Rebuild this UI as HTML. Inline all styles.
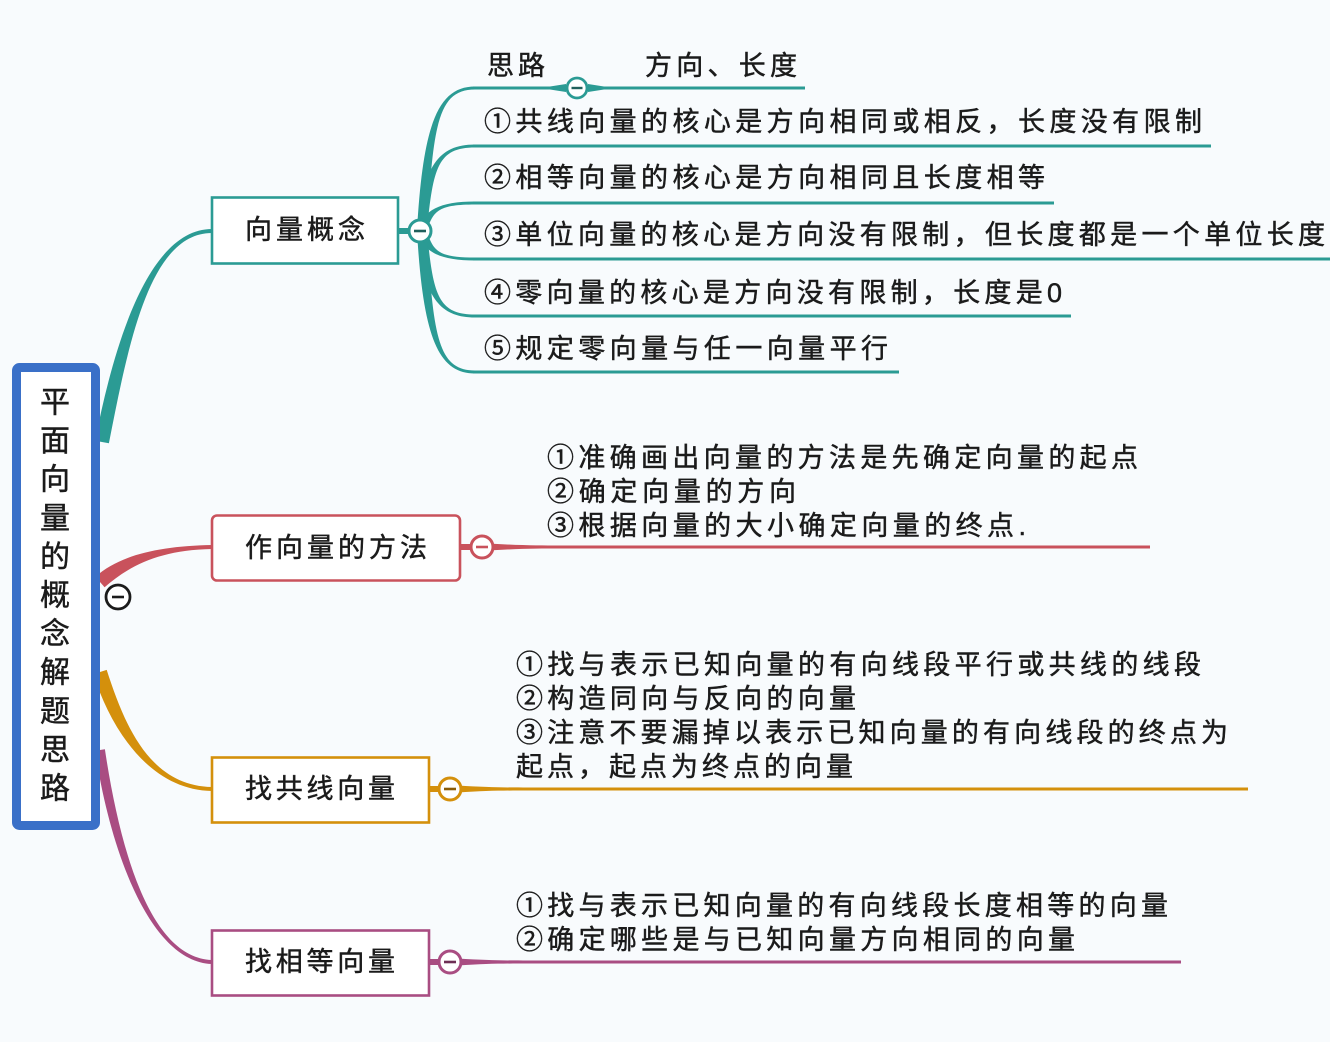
<!DOCTYPE html>
<html><head><meta charset="utf-8">
<style>
html,body{margin:0;padding:0;background:#f8fbfd;}
svg{display:block;}
text{font-family:"Liberation Sans","Noto Sans CJK SC",sans-serif;fill:#1b1b1b;dominant-baseline:central;stroke:#1b1b1b;stroke-width:0.45px;}
.t{font-size:27px;}
.n{font-size:27px;}
.r{font-size:30px;}
</style></head>
<body>
<svg width="1330" height="1042" viewBox="0 0 1330 1042" xmlns="http://www.w3.org/2000/svg">
<rect x="0" y="0" width="1330" height="1042" fill="#f8fbfd"/>

<!-- root branches -->
<path d="M95.1,440.7 C115.1,338.7 150,229 212,229 L212,233 C150,233 128.9,341.3 108.9,443.3 Z" fill="#2b9b94"/>
<path d="M95.4,576.7 C120.4,554.7 160,546 212,545 L212,549 C160,550 129.6,565.3 104.6,587.3 Z" fill="#c9525c"/>
<path d="M106.7,669.9 C124.7,725.9 150,786 212,787 L212,791 C150,790 111.3,730.1 93.3,674.1 Z" fill="#d4900c"/>
<path d="M104.9,749.3 C119.9,849.3 150,958 212,960 L212,964 C150,962 110.1,850.7 95.1,750.7 Z" fill="#a94d82"/>

<!-- root node -->
<rect x="16.5" y="367.5" width="79" height="458" rx="3" fill="#ffffff" stroke="#3a70c8" stroke-width="9"/>
<text class="r" x="55" y="403" text-anchor="middle">平</text>
<text class="r" x="55" y="441.6" text-anchor="middle">面</text>
<text class="r" x="55" y="480.2" text-anchor="middle">向</text>
<text class="r" x="55" y="518.8" text-anchor="middle">量</text>
<text class="r" x="55" y="557.4" text-anchor="middle">的</text>
<text class="r" x="55" y="596" text-anchor="middle">概</text>
<text class="r" x="55" y="634.6" text-anchor="middle">念</text>
<text class="r" x="55" y="673.2" text-anchor="middle">解</text>
<text class="r" x="55" y="711.8" text-anchor="middle">题</text>
<text class="r" x="55" y="750.4" text-anchor="middle">思</text>
<text class="r" x="55" y="789" text-anchor="middle">路</text>

<!-- root collapse circle -->
<circle cx="118" cy="597" r="12" fill="#ffffff" stroke="#1b1b1b" stroke-width="2.8"/>
<line x1="112" y1="597" x2="124" y2="597" stroke="#1b1b1b" stroke-width="2.6"/>

<!-- ===== teal: 向量概念 ===== -->
<g fill="#2b9b94">
<path d="M417,231 C423,124 438,86.5 475,86.5 L475,89.5 C438,89.5 433,124 427,231 Z"/>
<path d="M417,231 C423,167 438,144.5 475,144.5 L475,147.5 C438,147.5 433,167 427,231 Z"/>
<path d="M417,231 C423,210 440,201.5 475,201.5 L475,204.5 C440,204.5 433,210 427,231 Z"/>
<path d="M417,231 C423,252 440,260.5 475,260.5 L475,257.5 C440,257.5 433,252 427,231 Z"/>
<path d="M417,231 C423,295 438,317.5 475,317.5 L475,314.5 C438,314.5 433,295 427,231 Z"/>
<path d="M417,231 C423,336.75 438,373.5 475,373.5 L475,370.5 C438,370.5 433,336.75 427,231 Z"/>
<rect x="397" y="228" width="16" height="6"/>
<rect x="473" y="86.5" width="80" height="3"/>
<path d="M550,86.5 L566,84 L566,92 L550,89.5 Z"/>
<path d="M588,84 L604,86.5 L805,86.5 L805,89.5 L604,89.5 L588,92 Z"/>
<rect x="473" y="144.5" width="738" height="3"/>
<rect x="473" y="201.5" width="581" height="3"/>
<rect x="473" y="257.5" width="857" height="3"/>
<rect x="473" y="314.5" width="598" height="3"/>
<rect x="473" y="370.5" width="426" height="3"/>
</g>
<rect x="212" y="197.5" width="186" height="66" fill="#ffffff" stroke="#2b9b94" stroke-width="2.6"/>
<text class="n" x="245" y="230" textLength="120" lengthAdjust="spacing">向量概念</text>
<circle cx="420" cy="231" r="11" fill="#ffffff" stroke="#2b9b94" stroke-width="3"/>
<line x1="414" y1="231" x2="426" y2="231" stroke="#21605c" stroke-width="2.6"/>
<circle cx="577" cy="88" r="10" fill="#ffffff" stroke="#2b9b94" stroke-width="2.8"/>
<line x1="571.5" y1="88" x2="582.5" y2="88" stroke="#21605c" stroke-width="2.4"/>

<text class="t" x="487" y="66" textLength="58" lengthAdjust="spacing">思路</text>
<text class="t" x="645" y="66" textLength="152" lengthAdjust="spacing">方向、长度</text>
<text class="t" x="484" y="122" textLength="718" lengthAdjust="spacing">①共线向量的核心是方向相同或相反，长度没有限制</text>
<text class="t" x="484" y="178" textLength="561" lengthAdjust="spacing">②相等向量的核心是方向相同且长度相等</text>
<text class="t" x="484" y="235" textLength="841" lengthAdjust="spacing">③单位向量的核心是方向没有限制，但长度都是一个单位长度</text>
<text class="t" x="484" y="293" textLength="578" lengthAdjust="spacing">④零向量的核心是方向没有限制，长度是0</text>
<text class="t" x="484" y="349" textLength="404" lengthAdjust="spacing">⑤规定零向量与任一向量平行</text>

<!-- ===== red: 作向量的方法 ===== -->
<g fill="#c9525c">
<rect x="459" y="544" width="16" height="6"/>
<path d="M490,543.5 C520,545.5 540,545.5 560,545.5 L1150,545.5 L1150,548.5 L560,548.5 C540,548.5 520,548.5 490,550.5 Z"/>
</g>
<rect x="212" y="515.5" width="248" height="65" rx="5" fill="#ffffff" stroke="#c9525c" stroke-width="2.6"/>
<text class="n" x="245" y="548" textLength="182" lengthAdjust="spacing">作向量的方法</text>
<circle cx="482" cy="547" r="11" fill="#ffffff" stroke="#c9525c" stroke-width="3"/>
<line x1="476" y1="547" x2="488" y2="547" stroke="#c9525c" stroke-width="2.6"/>
<text class="t" x="547" y="458" textLength="591" lengthAdjust="spacing">①准确画出向量的方法是先确定向量的起点</text>
<text class="t" x="547" y="492" textLength="249" lengthAdjust="spacing">②确定向量的方向</text>
<text class="t" x="547" y="526" textLength="479" lengthAdjust="spacing">③根据向量的大小确定向量的终点.</text>

<!-- ===== orange: 找共线向量 ===== -->
<g fill="#d4900c">
<rect x="428" y="786" width="14" height="6"/>
<path d="M458,785.5 C488,787.5 508,787.5 528,787.5 L1248,787.5 L1248,790.5 L528,790.5 C508,790.5 488,790.5 458,792.5 Z"/>
</g>
<rect x="212" y="757.5" width="217" height="65" fill="#ffffff" stroke="#d4900c" stroke-width="2.6"/>
<text class="n" x="245" y="789" textLength="150" lengthAdjust="spacing">找共线向量</text>
<circle cx="450" cy="789" r="11" fill="#ffffff" stroke="#d4900c" stroke-width="3"/>
<line x1="444" y1="789" x2="456" y2="789" stroke="#8a5c08" stroke-width="2.6"/>
<text class="t" x="516" y="665" textLength="685" lengthAdjust="spacing">①找与表示已知向量的有向线段平行或共线的线段</text>
<text class="t" x="516" y="699" textLength="340" lengthAdjust="spacing">②构造同向与反向的向量</text>
<text class="t" x="516" y="733" textLength="712" lengthAdjust="spacing">③注意不要漏掉以表示已知向量的有向线段的终点为</text>
<text class="t" x="516" y="767" textLength="337" lengthAdjust="spacing">起点，起点为终点的向量</text>

<!-- ===== magenta: 找相等向量 ===== -->
<g fill="#a94d82">
<rect x="428" y="959" width="14" height="6"/>
<path d="M458,958.5 C488,960.5 508,960.5 528,960.5 L1181,960.5 L1181,963.5 L528,963.5 C508,963.5 488,963.5 458,965.5 Z"/>
</g>
<rect x="212" y="930.5" width="217" height="65" fill="#ffffff" stroke="#a94d82" stroke-width="2.6"/>
<text class="n" x="245" y="962" textLength="150" lengthAdjust="spacing">找相等向量</text>
<circle cx="450" cy="962" r="11" fill="#ffffff" stroke="#a94d82" stroke-width="3"/>
<line x1="444" y1="962" x2="456" y2="962" stroke="#6e2f55" stroke-width="2.6"/>
<text class="t" x="516" y="906" textLength="652" lengthAdjust="spacing">①找与表示已知向量的有向线段长度相等的向量</text>
<text class="t" x="516" y="940" textLength="559" lengthAdjust="spacing">②确定哪些是与已知向量方向相同的向量</text>
</svg>
</body></html>
